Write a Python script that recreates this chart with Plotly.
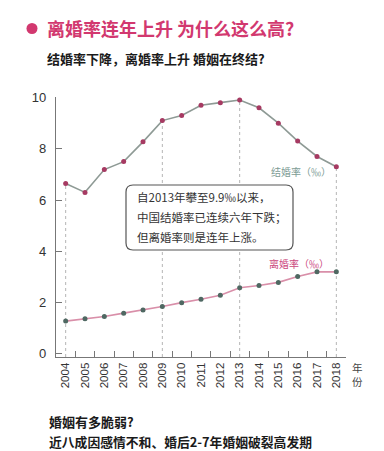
import plotly.graph_objects as go

years = [str(y) for y in range(2004, 2019)]
marriage_rate = [6.65, 6.3, 7.19, 7.5, 8.27, 9.1, 9.3, 9.7, 9.8, 9.9, 9.6, 9.0, 8.3, 7.7, 7.3]
divorce_rate = [1.28, 1.37, 1.46, 1.59, 1.71, 1.85, 2.0, 2.13, 2.29, 2.58, 2.67, 2.79, 3.02, 3.2, 3.2]
highlight_years = ["2004", "2009", "2013", "2018"]
y_ticks = [0, 2, 4, 6, 8, 10]

title = "离婚率连年上升 为什么这么高?"
subtitle = "结婚率下降，离婚率上升 婚姻在终结?"
box_lines = ["自2013年攀至9.9‰以来，", "中国结婚率已连续六年下跌；", "但离婚率则是连年上涨。"]
footer_lines = ["婚姻有多脆弱?", "近八成因感情不和、婚后2-7年婚姻破裂高发期"]
marriage_label = "结婚率（‰）"
divorce_label = "离婚率（‰）"
x_unit = "年<br>份"

W, H = 384, 451
L, R, T, B = 56, 38, 97, 94
PW, PH = W - L - R, H - T - B
CJK = "Noto Sans CJK SC"


def px(x):
    return (x - L) / PW


def py(y):
    return (H - B - y) / PH


fig = go.Figure()

# dashed guide lines from marriage points down to the axis
for yr in highlight_years:
    i = years.index(yr)
    fig.add_shape(type="line", xref="x", yref="y", x0=i, x1=i, y0=-0.12, y1=marriage_rate[i],
                  line=dict(color="#b5b5b5", width=1, dash="3px,3px"), layer="below")

fig.add_trace(go.Scatter(x=years, y=marriage_rate, mode="lines+markers",
                         line=dict(color="#8e9a95", width=1.6),
                         marker=dict(color="#a63a62", size=5), hoverinfo="skip"))
fig.add_trace(go.Scatter(x=years, y=divorce_rate, mode="lines+markers",
                         line=dict(color="#d98fa9", width=1.6),
                         marker=dict(color="#4f6862", size=5), hoverinfo="skip"))

# rounded annotation box
x0, x1, y0, y1 = px(126), px(293), py(250), py(185)
rx, ry = 7 / PW, 7 / PH
path = (f"M {x0+rx},{y0} L {x1-rx},{y0} Q {x1},{y0} {x1},{y0+ry} "
        f"L {x1},{y1-ry} Q {x1},{y1} {x1-rx},{y1} L {x0+rx},{y1} "
        f"Q {x0},{y1} {x0},{y1-ry} L {x0},{y0+ry} Q {x0},{y0} {x0+rx},{y0} Z")
fig.add_shape(type="path", xref="paper", yref="paper", path=path,
              line=dict(color="#555555", width=1.2), fillcolor="white", layer="above")

annotations = []
for k, line in enumerate(box_lines):
    annotations.append(dict(xref="paper", yref="paper", x=px(135), y=py(197 + 20 * k),
                            xanchor="left", yanchor="middle", text=line, showarrow=False,
                            font=dict(family=CJK, size=11.5, color="#333333")))

annotations += [
    dict(xref="paper", yref="paper", x=px(45), y=py(28), xanchor="left", yanchor="middle",
         text=f"<b>{title}</b>", showarrow=False,
         font=dict(family=CJK, size=18, color="#d2386f")),
    dict(xref="paper", yref="paper", x=px(45), y=py(58), xanchor="left", yanchor="middle",
         text=f"<b>{subtitle}</b>", showarrow=False,
         font=dict(family=CJK, size=13, color="#1a1a1a")),
    dict(xref="paper", yref="paper", x=px(47), y=py(421), xanchor="left", yanchor="middle",
         text=f"<b>{footer_lines[0]}</b>", showarrow=False,
         font=dict(family=CJK, size=13, color="#1a1a1a")),
    dict(xref="paper", yref="paper", x=px(47), y=py(441), xanchor="left", yanchor="middle",
         text=f"<b>{footer_lines[1]}</b>", showarrow=False,
         font=dict(family=CJK, size=12.8, color="#1a1a1a")),
    dict(xref="paper", yref="paper", x=px(333), y=py(171), xanchor="right", yanchor="middle",
         text=marriage_label, showarrow=False,
         font=dict(family=CJK, size=10, color="#7d9c95")),
    dict(xref="paper", yref="paper", x=px(331), y=py(263), xanchor="right", yanchor="middle",
         text=divorce_label, showarrow=False,
         font=dict(family=CJK, size=10, color="#cc4a80")),
    dict(xref="paper", yref="paper", x=px(357), y=py(374), xanchor="center", yanchor="middle",
         text=x_unit, showarrow=False,
         font=dict(family=CJK, size=10.5, color="#444444")),
]

fig.add_shape(type="circle", xref="paper", yref="paper", xsizemode="pixel", ysizemode="pixel",
              xanchor=px(32), yanchor=py(28.5), x0=-5.5, x1=5.5, y0=-5.5, y1=5.5,
              fillcolor="#d2386f", line=dict(width=0))

fig.update_layout(
    width=W, height=H, autosize=False,
    margin=dict(l=L, r=R, t=T, b=B),
    paper_bgcolor="white", plot_bgcolor="white",
    showlegend=False,
    annotations=annotations,
    xaxis=dict(type="category", range=[-0.5, 14.5], tickson="boundaries",
               ticks="inside", ticklen=6, tickcolor="#777777", tickwidth=1,
               showline=True, linecolor="#777777", linewidth=1.2,
               showgrid=False, zeroline=False, tickangle=-90,
               tickfont=dict(family="Liberation Sans", size=11.5, color="#333333")),
    yaxis=dict(range=[-0.12, 10.02], tickvals=y_ticks,
               ticks="inside", ticklen=6, tickcolor="#777777", tickwidth=1,
               showline=True, linecolor="#777777", linewidth=1.2,
               showgrid=False, zeroline=False, ticklabelstandoff=6,
               tickfont=dict(family="Liberation Sans", size=13, color="#333333")),
)

fig.write_html("out.html", config={"displayModeBar": False},
               post_script="document.body.style.margin='0';document.body.style.overflow='hidden';")
